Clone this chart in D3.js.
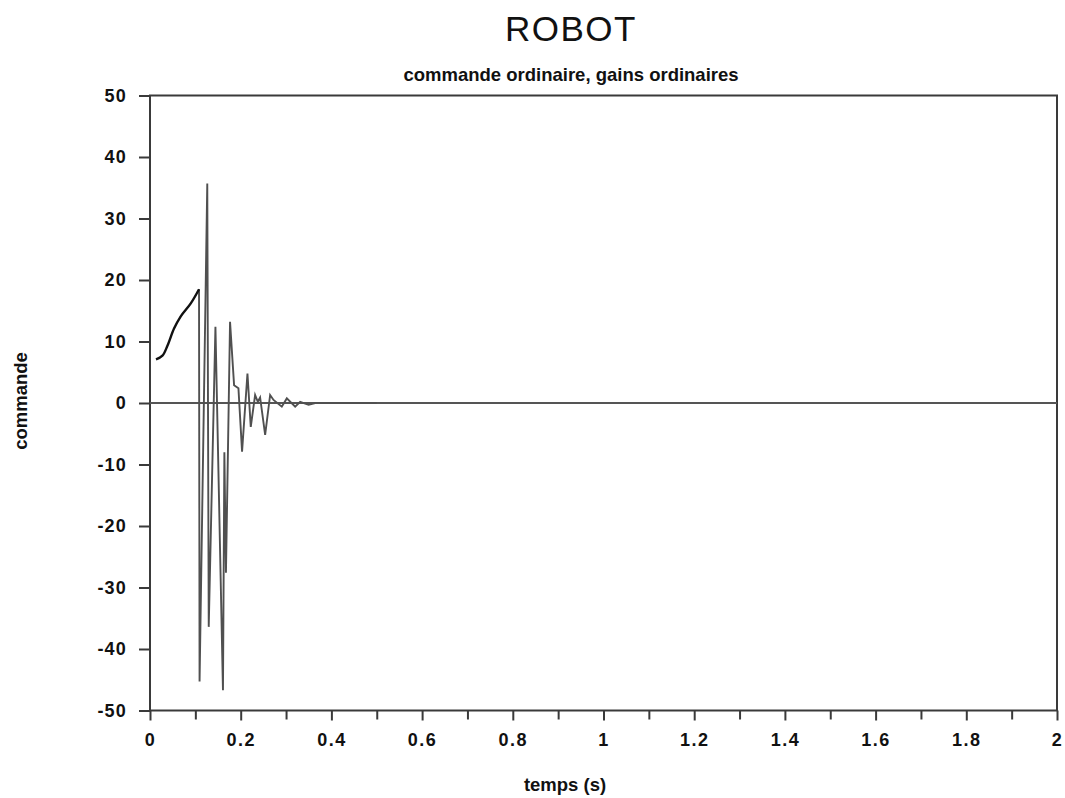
<!DOCTYPE html>
<html>
<head>
<meta charset="utf-8">
<script src="https://cdn.jsdelivr.net/npm/d3@7"></script>
<style>
  html, body { margin: 0; padding: 0; background: #fff; }
  svg { display: block; font-family: "Liberation Sans", Arial, Helvetica, sans-serif; }
</style>
</head>
<body>
<svg id="chart" width="1065" height="798"></svg>
<script>
// Command signal of the robot, time in seconds
const time = [0.0132, 0.0274, 0.0384, 0.0530, 0.0678, 0.0899, 0.1081,
  0.1093, 0.1263, 0.1295, 0.1443, 0.1609, 0.1640, 0.1675, 0.1765, 0.1854,
  0.1950, 0.2030, 0.2149, 0.2222, 0.2318, 0.2377, 0.2428, 0.2539, 0.2649,
  0.2724, 0.2906, 0.3017, 0.3201, 0.3311, 0.3497, 0.3643, 0.4200, 0.5000];
const command = [7.1, 7.7, 9.3, 12.1, 14.1, 16.2, 18.5,
  -45.3, 35.7, -36.4, 12.4, -46.7, -8.0, -27.6, 13.2, 2.9,
  2.4, -7.9, 4.8, -3.9, 1.3, 0.2, 0.9, -5.2, 1.3,
  0.5, -0.6, 0.75, -0.6, 0.2, -0.3, 0.0, 0.0, 0.0];
// index where the smooth ramp ends and the oscillation starts
const rampEnd = 6;

const xTicks = [0, 0.2, 0.4, 0.6, 0.8, 1, 1.2, 1.4, 1.6, 1.8, 2];
const xMinorTicks = [0.1, 0.3, 0.5, 0.7, 0.9, 1.1, 1.3, 1.5, 1.7, 1.9];
const yTicks = [50, 40, 30, 20, 10, 0, -10, -20, -30, -40, -50];

const title = "ROBOT";
const subtitle = "commande ordinaire, gains ordinaires";
const xTitle = "temps (s)";
const yTitle = "commande";

const svg = d3.select("#chart");
const plotLeft = 150, plotRight = 1057, plotTop = 95.5, plotBottom = 710.5;

const x = d3.scaleLinear().domain([0, 2]).range([plotLeft, plotRight]);
const y = d3.scaleLinear().domain([-50, 50]).range([plotBottom, plotTop]);

const axisColor = "#3a3a3a";
const labelFont = "'Liberation Sans', Arial, sans-serif";

// frame
svg.append("rect")
  .attr("x", plotLeft).attr("y", plotTop)
  .attr("width", plotRight - plotLeft).attr("height", plotBottom - plotTop)
  .attr("fill", "none").attr("stroke", axisColor).attr("stroke-width", 2);

// zero line
svg.append("line")
  .attr("x1", plotLeft).attr("x2", plotRight)
  .attr("y1", y(0)).attr("y2", y(0))
  .attr("stroke", "#555").attr("stroke-width", 2);

// y axis
const yAxis = d3.axisLeft(y).tickValues(yTicks).tickSize(11).tickPadding(12)
  .tickFormat(d => String(d));
const gy = svg.append("g").attr("transform", `translate(${plotLeft},0)`).call(yAxis);
gy.select(".domain").remove();
gy.selectAll(".tick line").attr("stroke", axisColor).attr("stroke-width", 2);
gy.selectAll(".tick text")
  .attr("fill", "#111").attr("font-size", 18).attr("font-weight", "bold")
  .attr("letter-spacing", 1.2)
  .attr("font-family", labelFont);

// x axis (major ticks with labels)
const xAxis = d3.axisBottom(x).tickValues(xTicks).tickSize(10).tickPadding(13)
  .tickFormat(d => d3.format("~g")(d));
const gx = svg.append("g").attr("transform", `translate(0,${plotBottom})`).call(xAxis);
gx.select(".domain").remove();
gx.selectAll(".tick line").attr("stroke", axisColor).attr("stroke-width", 2);
gx.selectAll(".tick text")
  .attr("fill", "#111").attr("font-size", 18).attr("font-weight", "bold")
  .attr("letter-spacing", 1.5)
  .attr("font-family", labelFont);

// x axis minor ticks
const xMinor = d3.axisBottom(x).tickValues(xMinorTicks).tickSize(9).tickFormat("");
const gxm = svg.append("g").attr("transform", `translate(0,${plotBottom})`).call(xMinor);
gxm.select(".domain").remove();
gxm.selectAll(".tick line").attr("stroke", axisColor).attr("stroke-width", 2);

// signal
const pts = time.map((t, i) => [t, command[i]]);
const line = d3.line().x(d => x(d[0])).y(d => y(d[1]));
const ramp = pts.slice(0, rampEnd + 1);
const osc = pts.slice(rampEnd);

svg.append("path").datum(osc).attr("d", line)
  .attr("fill", "none").attr("stroke", "#505050").attr("stroke-width", 1.9)
  .attr("stroke-linejoin", "miter");
svg.append("path").datum(ramp)
  .attr("d", d3.line().x(d => x(d[0])).y(d => y(d[1])).curve(d3.curveCatmullRom))
  .attr("fill", "none").attr("stroke", "#111").attr("stroke-width", 2.4);

// titles
svg.append("text").attr("x", 571).attr("y", 41).attr("text-anchor", "middle")
  .attr("font-size", 35).attr("letter-spacing", 1.5).attr("fill", "#111")
  .attr("font-family", labelFont).text(title);
svg.append("text").attr("x", 571).attr("y", 81).attr("text-anchor", "middle")
  .attr("font-size", 18.5).attr("font-weight", "bold").attr("fill", "#111")
  .text(subtitle);
svg.append("text").attr("x", 565).attr("y", 791).attr("text-anchor", "middle")
  .attr("font-size", 18.5).attr("font-weight", "bold").attr("fill", "#111")
  .text(xTitle);
svg.append("text")
  .attr("transform", "translate(27,401) rotate(-90)")
  .attr("text-anchor", "middle")
  .attr("font-size", 18.5).attr("font-weight", "bold").attr("fill", "#111")
  .text(yTitle);
</script>
</body>
</html>
